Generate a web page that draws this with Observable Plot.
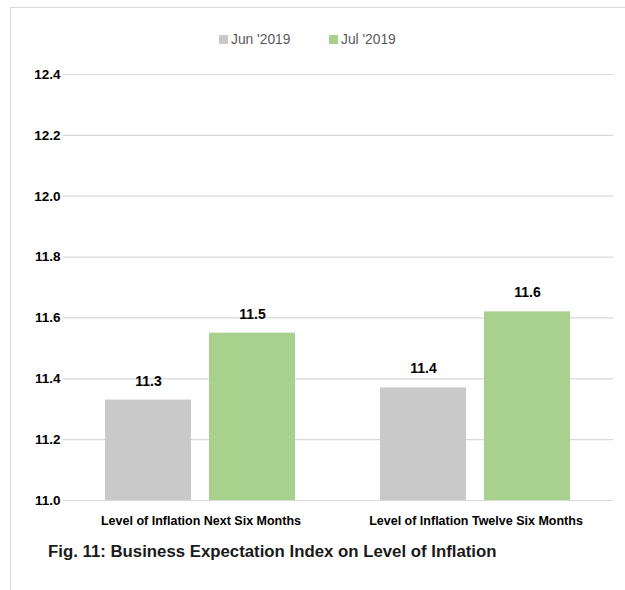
<!DOCTYPE html>
<html>
<head>
<meta charset="utf-8">
<script src="https://cdn.jsdelivr.net/npm/d3@7"></script>
<script src="https://cdn.jsdelivr.net/npm/@observablehq/plot@0.6"></script>
<style>
  body { margin: 0; background: #fff; font-family: "Liberation Sans", sans-serif; }
  #wrap { position: relative; width: 625px; height: 590px; overflow: hidden; }
  #frame { position: absolute; left: 10px; top: 7px; width: 700px; height: 700px; border: 1.5px solid #d9d9d9; }
  #legend { position: absolute; top: 32px; left: 0; width: 625px; font-size: 13.8px; color: #595959; }
  .item { position: absolute; display: flex; align-items: center; }
  .sw { width: 9px; height: 9px; margin-right: 3px; }
  #chart { position: absolute; left: 0; top: 0; }
  #caption { position: absolute; left: 48px; top: 542px; font-size: 16.8px; font-weight: bold; color: #1a1a1a; }
</style>
</head>
<body>
<div id="wrap">
  <div id="frame"></div>
  <div id="legend"></div>
  <div id="chart"></div>
  <div id="caption"></div>
</div>
<script>
const categories = ["Level of Inflation Next Six Months", "Level of Inflation Twelve Six Months"];
const seriesNames = ["Jun '2019", "Jul '2019"];
const junValues = [11.33, 11.37];
const julValues = [11.55, 11.62];
const valueLabels = [["11.3", "11.4"], ["11.5", "11.6"]];
const yTicks = [11.0, 11.2, 11.4, 11.6, 11.8, 12.0, 12.2, 12.4];
const colors = ["#c9c9c9", "#a9d18e"];
const captionText = "Fig. 11: Business Expectation Index on Level of Inflation";

const data = [];
categories.forEach((c, i) => {
  data.push({cat: c, series: seriesNames[0], value: junValues[i], label: valueLabels[0][i]});
  data.push({cat: c, series: seriesNames[1], value: julValues[i], label: valueLabels[1][i]});
});

const chart = Plot.plot({
  width: 625,
  height: 540,
  marginTop: 74,
  marginBottom: 40,
  marginLeft: 63,
  marginRight: 12,
  style: {fontFamily: '"Liberation Sans", sans-serif', background: "transparent"},
  fx: {domain: categories, padding: 0, label: null},
  x: {domain: seriesNames, paddingInner: 0.17, paddingOuter: 0.4, axis: null},
  y: {domain: [11.0, 12.4], label: null},
  color: {domain: seriesNames, range: colors},
  marks: [
    Plot.gridY(yTicks, {stroke: "#d9d9d9", strokeOpacity: 1, strokeWidth: 1.2}),
    Plot.axisY(yTicks, {tickSize: 0, tickPadding: 3, tickFormat: d => d.toFixed(1), fontSize: 13.5, fontWeight: "bold", fill: "#000", textAnchor: "end", facetAnchor: "left", label: null}),
    Plot.barY(data, {fx: "cat", x: "series", y1: 11.0, y2: "value", fill: "series", style: "filter: drop-shadow(1px 1px 1px rgba(0,0,0,0.35))"}),
    Plot.text(data, {fx: "cat", x: "series", y: "value", text: "label", dy: -19, fontSize: 14, fontWeight: "bold", fill: "#000"}),
    Plot.axisFx({anchor: "bottom", tickSize: 0, tickPadding: 16, fontSize: 12.5, fontWeight: "bold", fill: "#000", label: null})
  ]
});
document.getElementById("chart").appendChild(chart);

const legend = document.getElementById("legend");
const legendX = [219, 329];
seriesNames.forEach((s, i) => {
  const it = document.createElement("div");
  it.className = "item";
  it.style.left = legendX[i] + "px";
  const sw = document.createElement("div");
  sw.className = "sw";
  sw.style.background = colors[i];
  const t = document.createElement("span");
  t.textContent = s;
  it.appendChild(sw); it.appendChild(t);
  legend.appendChild(it);
});
document.getElementById("caption").textContent = captionText;
</script>
</body>
</html>
